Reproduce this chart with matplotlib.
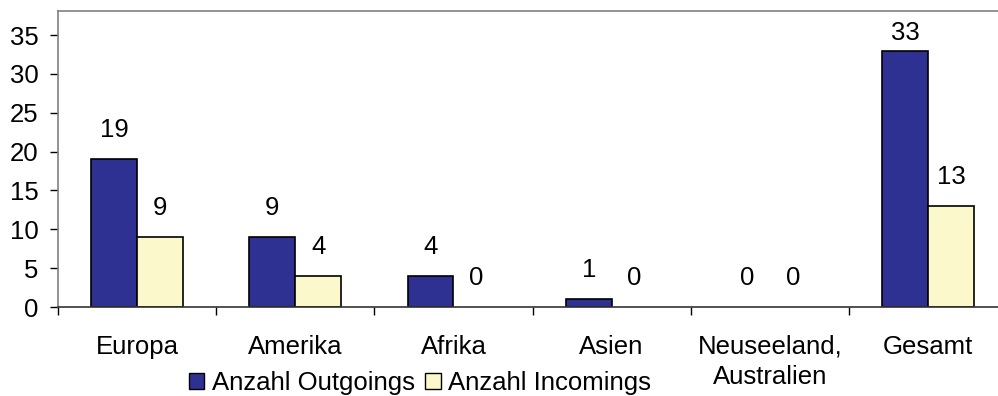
import numpy as np
import matplotlib
matplotlib.use("Agg")
import matplotlib.pyplot as plt
from matplotlib.patches import Patch

plt.rcParams["font.family"] = ["Liberation Sans", "DejaVu Sans"]

# Data
CATEGORIES = ["Europa", "Amerika", "Afrika", "Asien", "Neuseeland,\nAustralien", "Gesamt"]
OUTGOINGS = [19, 9, 4, 1, 0, 33]
INCOMINGS = [9, 4, 0, 0, 0, 13]
SERIES_NAMES = ["Anzahl Outgoings", "Anzahl Incomings"]
Y_TICKS = [0, 5, 10, 15, 20, 25, 30, 35]

BLUE = "#2E3192"
YELLOW = "#FBF8CC"
FONT_SIZE = 18.5
Y_MAX = 38.1

fig = plt.figure(figsize=(9.98, 3.96), dpi=100)
ax_pos = [0.0581, 0.2247, 0.951, 0.7475]
ax = fig.add_axes(ax_pos)

x = np.arange(len(CATEGORIES))
width = 0.29

bars_out = ax.bar(x - width / 2, OUTGOINGS, width, color=BLUE,
                  edgecolor="black", linewidth=1.2)
bars_in = ax.bar(x + width / 2, INCOMINGS, width, color=YELLOW,
                 edgecolor="black", linewidth=1.2)

# pixels per data unit, used to keep the top label inside the plot
px_per_unit = ax_pos[3] * 396 / Y_MAX

for bars, values in ((bars_out, OUTGOINGS), (bars_in, INCOMINGS)):
    for bar, val in zip(bars, values):
        if val == 0:
            bar.set_linewidth(0)  # empty bars are not drawn
        offset_px = min(29, (Y_MAX - val) * px_per_unit - 22)
        ax.annotate(str(val),
                    xy=(bar.get_x() + bar.get_width() / 2, val),
                    xytext=(0, offset_px * 0.72), textcoords="offset points",
                    ha="center", va="center", fontsize=FONT_SIZE)

ax.set_xlim(-0.5, len(CATEGORIES) - 0.5)
ax.set_ylim(0, Y_MAX)
ax.set_yticks(Y_TICKS)
ax.tick_params(axis="y", labelsize=FONT_SIZE, length=6, width=1, pad=8,
               direction="out")

# category labels centred, ticks on the boundaries
ax.set_xticks(x)
ax.set_xticklabels(CATEGORIES, fontsize=FONT_SIZE, linespacing=1.33)
ax.tick_params(axis="x", length=0, pad=20)
ax.set_xticks(np.arange(-0.5, len(CATEGORIES), 1.0), minor=True)
ax.tick_params(axis="x", which="minor", length=6, width=1, direction="out")

for side in ("left", "top"):
    ax.spines[side].set_color("#808080")
    ax.spines[side].set_linewidth(1.2)
ax.spines["right"].set_visible(False)
ax.spines["bottom"].set_color("#333333")
ax.spines["bottom"].set_linewidth(1.2)

handles = [Patch(facecolor=BLUE, edgecolor="black", linewidth=1),
           Patch(facecolor=YELLOW, edgecolor="black", linewidth=1)]
fig.legend(handles, SERIES_NAMES, loc="center", bbox_to_anchor=(0.421, 0.032),
           ncol=2, frameon=False, fontsize=FONT_SIZE, handlelength=0.6,
           handleheight=0.6, handletextpad=0.3, columnspacing=0.4,
           borderaxespad=0, borderpad=0)

fig.savefig("out.png", dpi=100)
